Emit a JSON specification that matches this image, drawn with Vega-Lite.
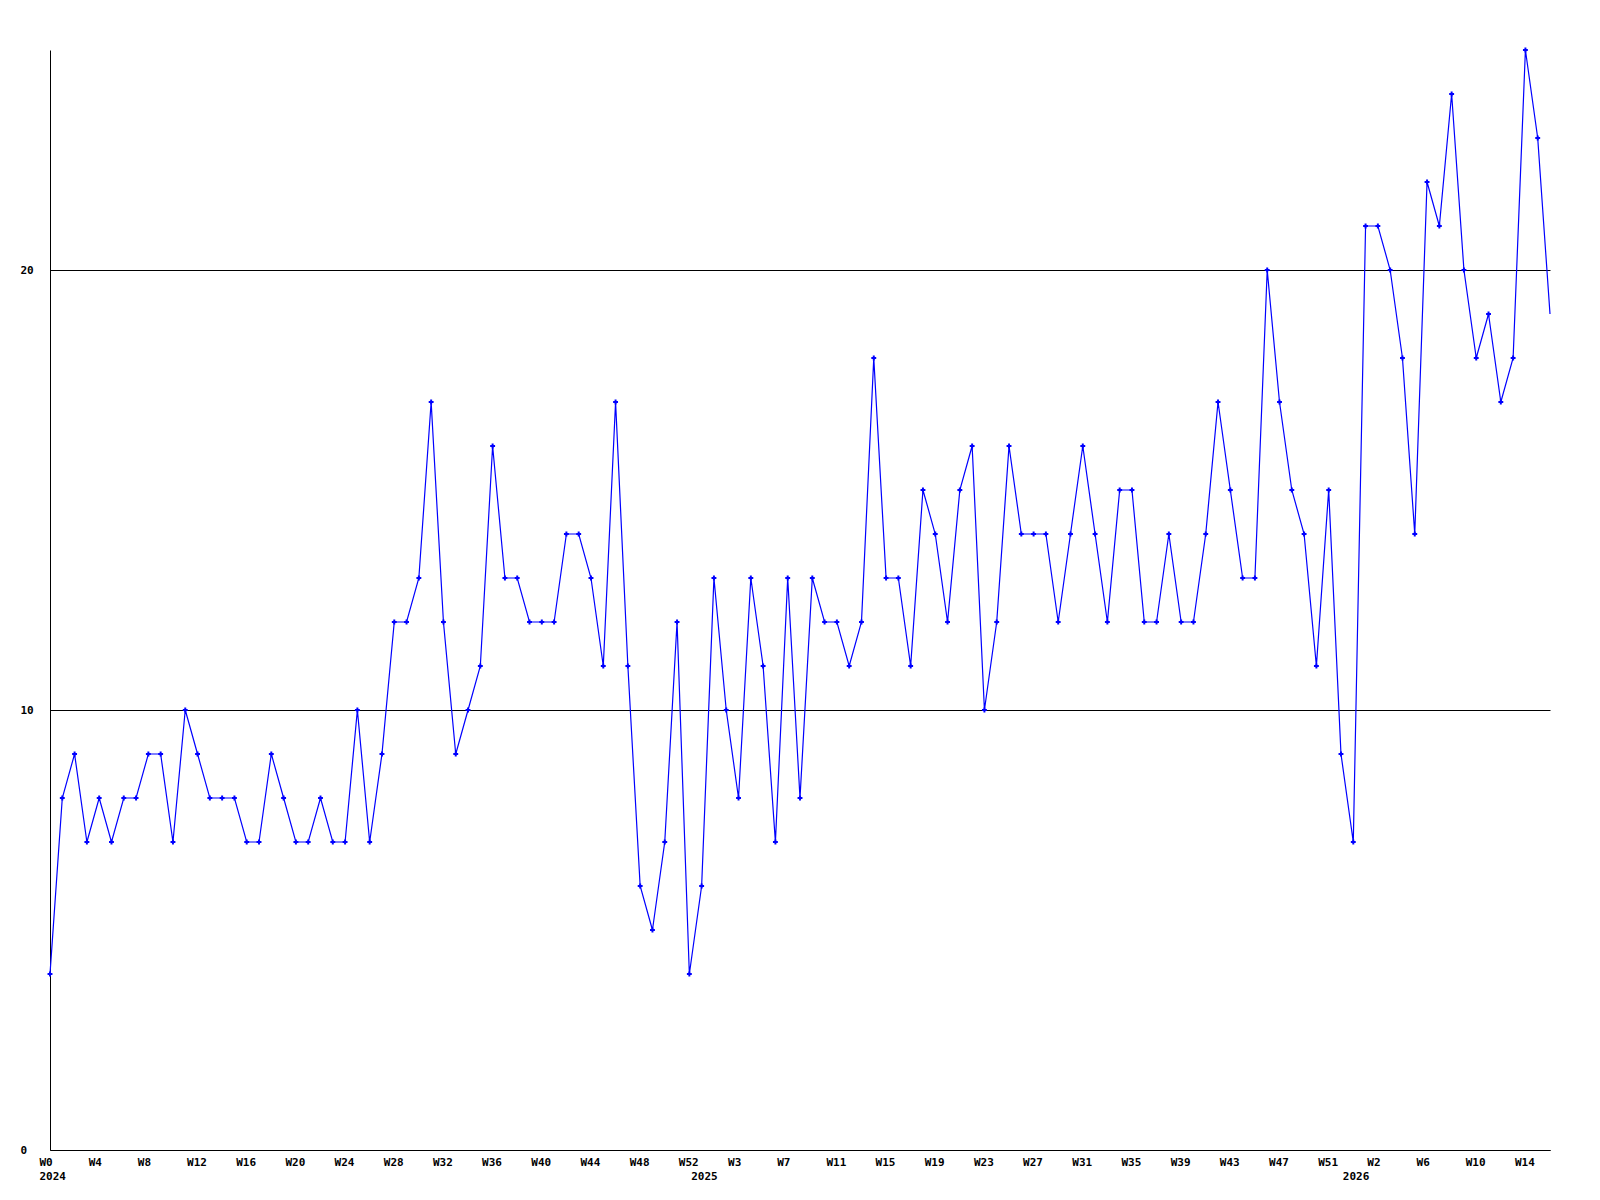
{
  "$schema": "https://vega.github.io/schema/vega-lite/v6.json",
  "width": 1500,
  "height": 1100,
  "autosize": {"type": "none"},
  "padding": {"left": 50, "top": 50, "right": 50, "bottom": 50},
  "background": "white",
  "config": {"view": {"stroke": null}},
  "data": {"values": [
    {"i":0,"v":4},{"i":1,"v":8},{"i":2,"v":9},{"i":3,"v":7},{"i":4,"v":8},{"i":5,"v":7},{"i":6,"v":8},{"i":7,"v":8},{"i":8,"v":9},{"i":9,"v":9},
    {"i":10,"v":7},{"i":11,"v":10},{"i":12,"v":9},{"i":13,"v":8},{"i":14,"v":8},{"i":15,"v":8},{"i":16,"v":7},{"i":17,"v":7},{"i":18,"v":9},{"i":19,"v":8},
    {"i":20,"v":7},{"i":21,"v":7},{"i":22,"v":8},{"i":23,"v":7},{"i":24,"v":7},{"i":25,"v":10},{"i":26,"v":7},{"i":27,"v":9},{"i":28,"v":12},{"i":29,"v":12},
    {"i":30,"v":13},{"i":31,"v":17},{"i":32,"v":12},{"i":33,"v":9},{"i":34,"v":10},{"i":35,"v":11},{"i":36,"v":16},{"i":37,"v":13},{"i":38,"v":13},{"i":39,"v":12},
    {"i":40,"v":12},{"i":41,"v":12},{"i":42,"v":14},{"i":43,"v":14},{"i":44,"v":13},{"i":45,"v":11},{"i":46,"v":17},{"i":47,"v":11},{"i":48,"v":6},{"i":49,"v":5},
    {"i":50,"v":7},{"i":51,"v":12},{"i":52,"v":4},{"i":53,"v":6},{"i":54,"v":13},{"i":55,"v":10},{"i":56,"v":8},{"i":57,"v":13},{"i":58,"v":11},{"i":59,"v":7},
    {"i":60,"v":13},{"i":61,"v":8},{"i":62,"v":13},{"i":63,"v":12},{"i":64,"v":12},{"i":65,"v":11},{"i":66,"v":12},{"i":67,"v":18},{"i":68,"v":13},{"i":69,"v":13},
    {"i":70,"v":11},{"i":71,"v":15},{"i":72,"v":14},{"i":73,"v":12},{"i":74,"v":15},{"i":75,"v":16},{"i":76,"v":10},{"i":77,"v":12},{"i":78,"v":16},{"i":79,"v":14},
    {"i":80,"v":14},{"i":81,"v":14},{"i":82,"v":12},{"i":83,"v":14},{"i":84,"v":16},{"i":85,"v":14},{"i":86,"v":12},{"i":87,"v":15},{"i":88,"v":15},{"i":89,"v":12},
    {"i":90,"v":12},{"i":91,"v":14},{"i":92,"v":12},{"i":93,"v":12},{"i":94,"v":14},{"i":95,"v":17},{"i":96,"v":15},{"i":97,"v":13},{"i":98,"v":13},{"i":99,"v":20},
    {"i":100,"v":17},{"i":101,"v":15},{"i":102,"v":14},{"i":103,"v":11},{"i":104,"v":15},{"i":105,"v":9},{"i":106,"v":7},{"i":107,"v":21},{"i":108,"v":21},{"i":109,"v":20},
    {"i":110,"v":18},{"i":111,"v":14},{"i":112,"v":22},{"i":113,"v":21},{"i":114,"v":24},{"i":115,"v":20},{"i":116,"v":18},{"i":117,"v":19},{"i":118,"v":17},{"i":119,"v":18},
    {"i":120,"v":25},{"i":121,"v":23},{"i":122,"v":19}
  ]},
  "encoding": {
    "x": {
      "field": "i", "type": "quantitative",
      "scale": {"domain": [0, 122], "nice": false, "zero": false},
      "axis": {
        "title": null,
        "values": [0,4,8,12,16,20,24,28,32,36,40,44,48,52,53,56,60,64,68,72,76,80,84,88,92,96,100,104,106,108,112,116,120],
        "labelExpr": "datum.value == 0 ? ['W0','2024'] : datum.value == 53 ? ['','2025'] : datum.value == 106 ? ['','2026'] : datum.value < 53 ? 'W' + datum.value : datum.value < 106 ? 'W' + (datum.value - 53) : 'W' + (datum.value - 106)",
        "labelAlign": "left",
        "labelBaseline": "top",
        "labelOffset": -11,
        "labelPadding": 6,
        "labelLineHeight": 14,
        "labelOverlap": false,
        "labelBound": false,
        "labelFlush": false,
        "labelFont": "DejaVu Sans Mono",
        "labelFontWeight": "bold",
        "labelFontSize": 11,
        "labelColor": "black",
        "ticks": false,
        "tickSize": 0,
        "grid": false,
        "domainColor": "black",
        "domainWidth": 1
      }
    },
    "y": {
      "field": "v", "type": "quantitative",
      "scale": {"domain": [0, 25], "nice": false, "zero": true},
      "axis": {
        "title": null,
        "values": [0, 10, 20],
        "labelAlign": "left",
        "labelBaseline": "middle",
        "labelPadding": 30,
        "labelFont": "DejaVu Sans Mono",
        "labelFontWeight": "bold",
        "labelFontSize": 11,
        "labelColor": "black",
        "ticks": false,
        "tickSize": 0,
        "grid": true,
        "gridColor": "black",
        "gridOpacity": 1,
        "gridWidth": 1,
        "domainColor": "black",
        "domainWidth": 1
      }
    }
  },
  "layer": [
    {"mark": {"type": "line", "color": "#0000ff", "strokeWidth": 1.2}},
    {
      "transform": [{"filter": "datum.i < 122"}],
      "mark": {"type": "point", "shape": "cross", "size": 24, "filled": true, "color": "#0000ff", "opacity": 1}
    }
  ]
}
